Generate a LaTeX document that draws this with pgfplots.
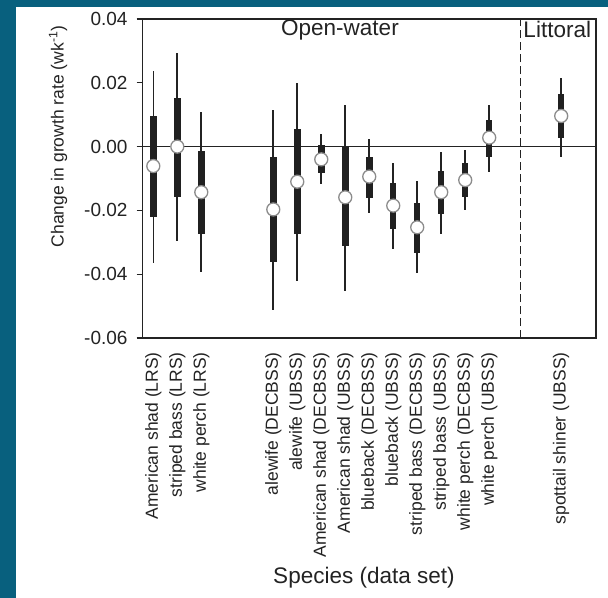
\documentclass[border=0pt]{standalone}
\usepackage{fontspec}
\setmainfont{Liberation Sans}
\usepackage{pgfplots}
\usepackage{pgfplotstable}
\pgfplotsset{compat=1.18}
\definecolor{frame}{RGB}{8,96,126}
\definecolor{txt}{RGB}{35,35,35}
\pgfplotstableread{
x lo q1 med q3 hi
1 -0.0366 -0.0222 -0.0061 0.0096 0.0238
2 -0.0295 -0.0157 0.0000 0.0153 0.0292
3 -0.0392 -0.0275 -0.0143 -0.0014 0.0107
6 -0.0512 -0.0363 -0.0197 -0.0032 0.0115
7 -0.0420 -0.0274 -0.0110 0.0054 0.0200
8 -0.0117 -0.0084 -0.0040 0.0005 0.0039
9 -0.0452 -0.0312 -0.0159 0.0000 0.0129
10 -0.0209 -0.0160 -0.0094 -0.0032 0.0023
11 -0.0322 -0.0259 -0.0185 -0.0113 -0.0052
12 -0.0397 -0.0333 -0.0253 -0.0176 -0.0108
13 -0.0275 -0.0212 -0.0143 -0.0076 -0.0016
14 -0.0199 -0.0157 -0.0105 -0.0052 -0.0011
15 -0.0081 -0.0034 0.0028 0.0083 0.0130
18 -0.0032 0.0028 0.0096 0.0164 0.0216
}\data
\begin{document}
\begin{tikzpicture}
\useasboundingbox (-142.7bp,-260bp) rectangle (465.3bp,338bp);
\fill[frame] (-142.7bp,-260bp) rectangle (465.3bp,338bp);
\fill[white] (-126.7bp,-260bp) rectangle (465.3bp,330.7bp);
\begin{axis}[
 scale only axis, width=453.3bp, height=319bp,
 xmin=0.558, xmax=19.45, ymin=-0.06, ymax=0.04,
 axis line style={line width=1.3bp, txt},
 every tick/.style={line width=1.3bp, txt},
 tick align=outside, major tick length=6bp,
 xtick={1,2,3,6,7,8,9,10,11,12,13,14,15,18},
 xticklabels={American shad (LRS), striped bass (LRS), white perch (LRS),
   alewife (DECBSS), alewife (UBSS), American shad (DECBSS), American shad (UBSS),
   blueback (DECBSS), blueback (UBSS), striped bass (DECBSS), striped bass (UBSS),
   white perch (DECBSS), white perch (UBSS), spottail shiner (UBSS)},
 x tick style={draw=none},
 xticklabel style={rotate=90, anchor=east, inner sep=0pt, font=\fontsize{17.5bp}{20bp}\selectfont, text=txt},
 xticklabel shift=8bp,
 scaled y ticks=false,
 ytick={-0.06,-0.04,-0.02,0,0.02,0.04},
 yticklabels={-0.06,-0.04,-0.02,0.00,0.02,0.04},
 yticklabel style={inner sep=0pt, font=\fontsize{19bp}{22bp}\selectfont, text=txt},
 yticklabel shift=9bp,
 ytick pos=left, xtick pos=bottom,
 xlabel={Species (data set)},
 xlabel style={at={(axis description cs:0.488,-0.752)}, anchor=center, font=\fontsize{22.5bp}{26bp}\selectfont, text=txt},
 ylabel={Change in growth rate (wk\textsuperscript{-1})},
 ylabel style={at={(axis description cs:-0.1868,0.6317)}, anchor=center, font=\fontsize{17.5bp}{21bp}\selectfont, text=txt},
 clip=false,
]
\addplot[txt, line width=1.1bp, forget plot] coordinates {(0.558,0) (19.45,0)};
\addplot[txt, line width=1.2bp, dash pattern=on 8bp off 4bp, forget plot] coordinates {(16.31,-0.06) (16.31,0.04)};
\addplot[only marks, mark=none, forget plot,
  error bars/.cd, y dir=both, y explicit, error mark=none,
  error bar style={line width=1.6bp, draw=txt, line cap=butt}]
  table[x=x, y=med, y error plus expr=\thisrow{hi}-\thisrow{med}, y error minus expr=\thisrow{med}-\thisrow{lo}] {\data};
\addplot[only marks, mark=none, forget plot,
  error bars/.cd, y dir=both, y explicit, error mark=none,
  error bar style={line width=6.5bp, draw=txt!90!black, line cap=butt}]
  table[x=x, y=med, y error plus expr=\thisrow{q3}-\thisrow{med}, y error minus expr=\thisrow{med}-\thisrow{q1}] {\data};
\addplot[only marks, mark=*, mark size=6.5bp, mark options={fill=white, draw=black!45, line width=1.3bp}, forget plot]
  table[x=x, y=med] {\data};
\node[font=\fontsize{22.5bp}{26bp}\selectfont, text=txt, anchor=center] at (axis cs:8.78,0.0366) {Open-water};
\node[font=\fontsize{22.5bp}{26bp}\selectfont, text=txt, anchor=west, inner sep=0pt] at (axis cs:16.42,0.0366) {Littoral};
\end{axis}
\end{tikzpicture}
\end{document}
